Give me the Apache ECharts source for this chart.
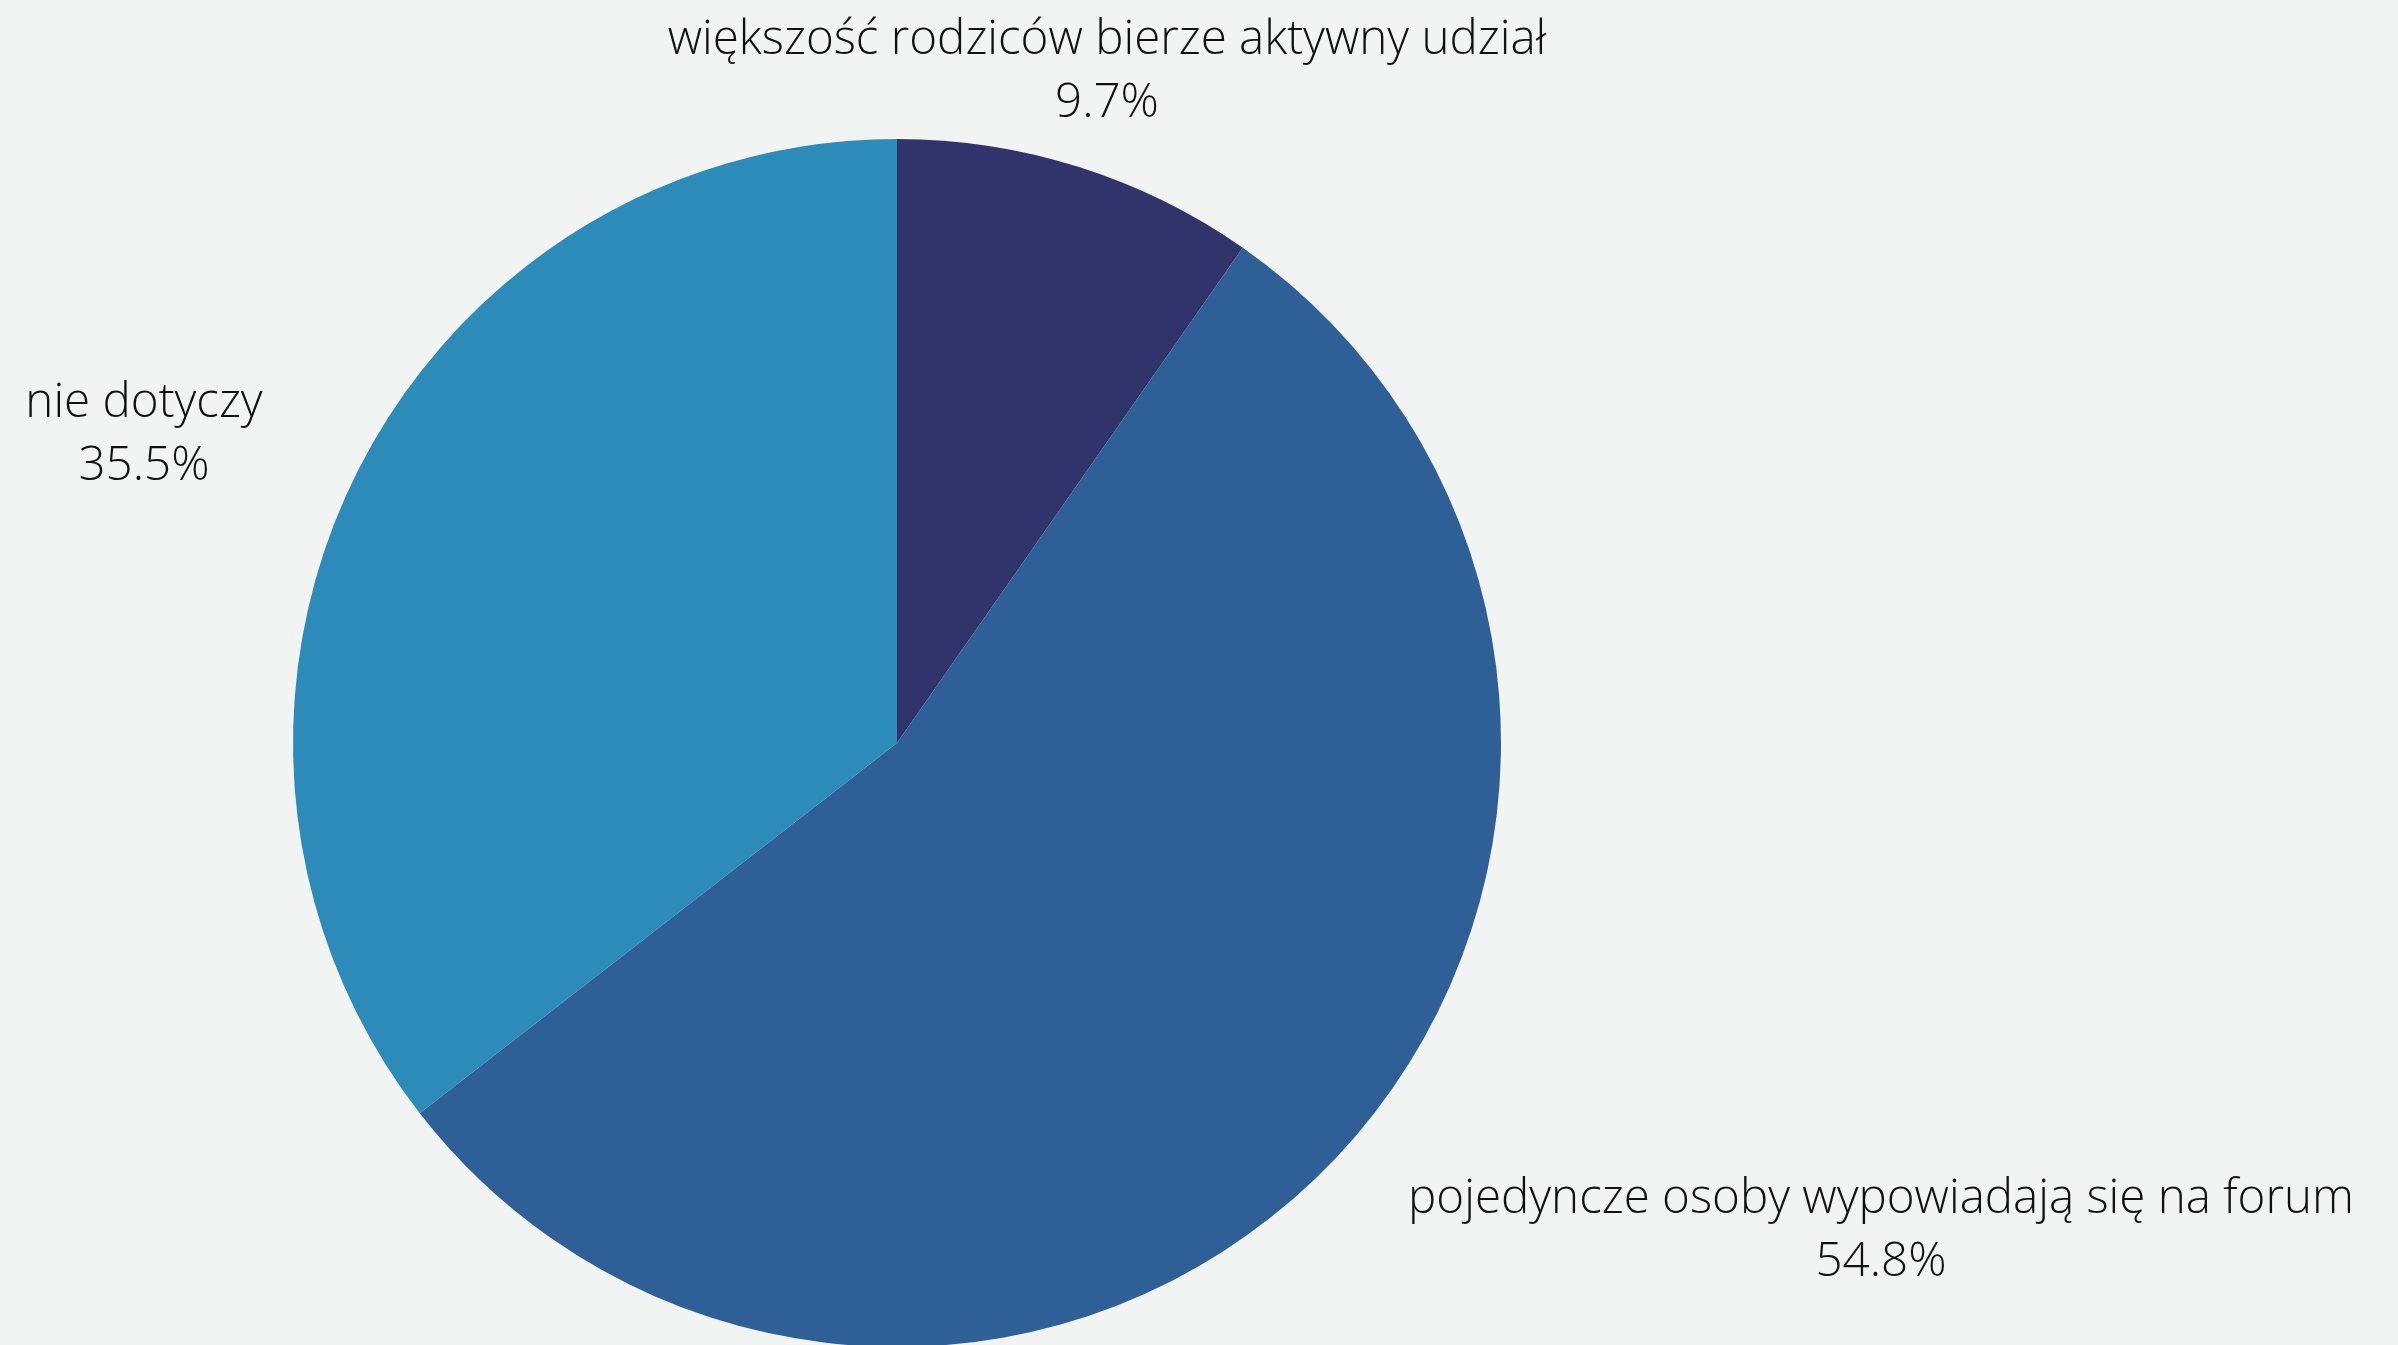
<!DOCTYPE html>
<html>
<head>
<meta charset="utf-8">
<script src="https://cdn.jsdelivr.net/npm/echarts@6/dist/echarts.min.js"></script>
<style>
html,body{margin:0;padding:0;background:#F2F4F3;}
#chart{width:2398px;height:1345px;}
</style>
</head>
<body>
<div id="chart"></div>
<script>
const categories = ['większość rodziców bierze aktywny udział', 'pojedyncze osoby wypowiadają się na forum', 'nie dotyczy'];
const values = [9.7, 54.8, 35.5];
const colors = ['#31346B', '#2E5F97', '#2C8BB9'];
// label anchor positions (label centres), separate from data
const labelPos = [[1107, 72], [1881, 1231], [144, 435]];

const chart = echarts.init(document.getElementById('chart'));
chart.setOption({
  backgroundColor: '#F2F4F3',
  animation: false,
  series: [{
    type: 'pie',
    center: [897, 743],
    radius: 604,
    startAngle: 90,
    clockwise: true,
    avoidLabelOverlap: false,
    emphasis: {disabled: true},
    label: {
      show: true,
      position: 'outside',
      formatter: p => p.name + '\n' + p.value.toFixed(1) + '%',
      fontFamily: 'Open Sans',
      fontWeight: 300,
      fontSize: 47.5,
      lineHeight: 63,
      color: '#111111',
      align: 'center'
    },
    labelLine: {show: false},
    labelLayout: function (params) {
      const pos = labelPos[params.dataIndex];
      return {x: pos[0], y: pos[1], align: 'center', verticalAlign: 'middle'};
    },
    data: categories.map((c, i) => ({name: c, value: values[i], itemStyle: {color: colors[i]}}))
  }]
});
</script>
</body>
</html>
